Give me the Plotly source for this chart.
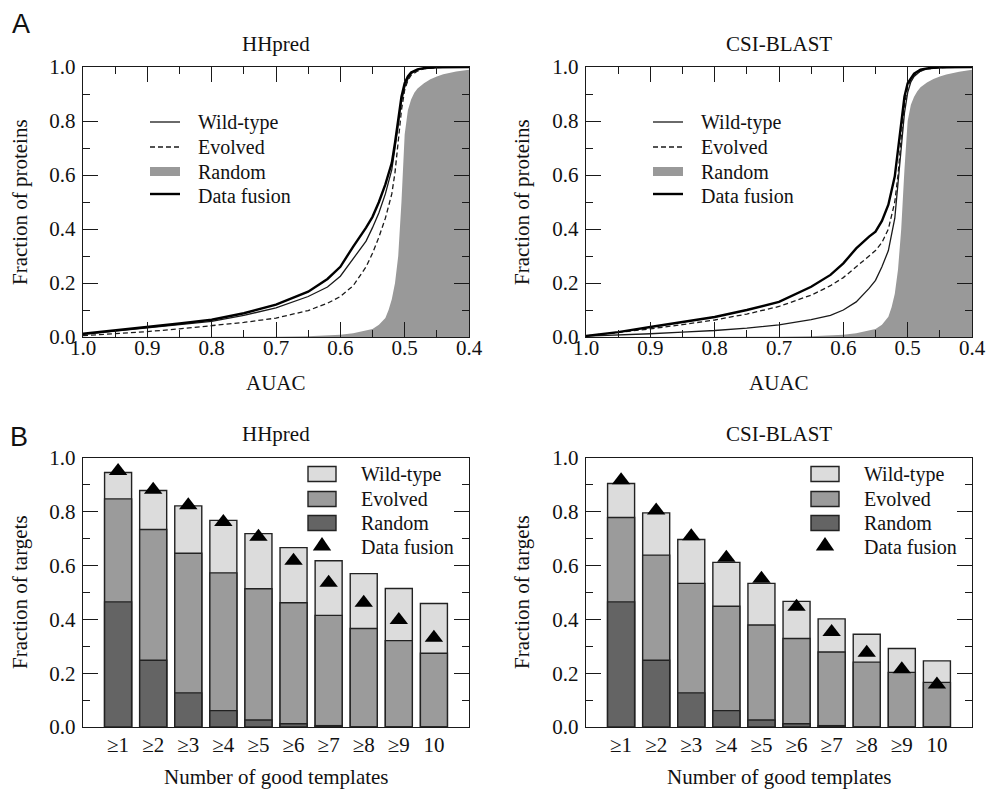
import plotly.graph_objects as go

# ---------------- DATA ----------------
# Panel A: cumulative fraction of proteins vs AUAC
auac = [1.0, 0.95, 0.9, 0.85, 0.8, 0.75, 0.7, 0.65, 0.62, 0.6, 0.58, 0.56, 0.55, 0.54,
        0.53, 0.52, 0.515, 0.51, 0.505, 0.5, 0.495, 0.49, 0.48, 0.47, 0.46, 0.45, 0.4]

hh_wild = [0.010, 0.022, 0.033, 0.045, 0.058, 0.080, 0.108, 0.150, 0.185, 0.225, 0.290, 0.355,
           0.405, 0.460, 0.530, 0.620, 0.700, 0.790, 0.870, 0.925, 0.955, 0.975, 0.990, 0.995,
           0.997, 0.999, 1.0]
hh_evolved = [0.005, 0.012, 0.020, 0.030, 0.042, 0.054, 0.070, 0.098, 0.125, 0.150, 0.190, 0.260,
              0.310, 0.370, 0.440, 0.530, 0.610, 0.720, 0.840, 0.915, 0.950, 0.970, 0.985, 0.993,
              0.996, 0.998, 1.0]
hh_fusion = [0.012, 0.024, 0.036, 0.050, 0.064, 0.088, 0.120, 0.168, 0.215, 0.260, 0.335, 0.405,
             0.445, 0.500, 0.565, 0.645, 0.720, 0.810, 0.890, 0.940, 0.965, 0.980, 0.991, 0.996,
             0.998, 0.999, 1.0]

csi_wild = [0.003, 0.007, 0.012, 0.018, 0.024, 0.033, 0.045, 0.064, 0.080, 0.100, 0.130, 0.180,
            0.210, 0.260, 0.320, 0.440, 0.560, 0.700, 0.830, 0.905, 0.945, 0.965, 0.985, 0.993,
            0.996, 0.998, 1.0]
csi_evolved = [0.004, 0.016, 0.030, 0.046, 0.063, 0.085, 0.113, 0.155, 0.190, 0.220, 0.260, 0.300,
               0.320, 0.350, 0.400, 0.500, 0.600, 0.740, 0.860, 0.925, 0.955, 0.970, 0.985, 0.993,
               0.996, 0.998, 1.0]
csi_fusion = [0.004, 0.018, 0.037, 0.055, 0.074, 0.100, 0.130, 0.186, 0.230, 0.273, 0.328, 0.372,
              0.390, 0.430, 0.490, 0.595, 0.690, 0.805, 0.890, 0.940, 0.960, 0.975, 0.990, 0.995,
              0.997, 0.999, 1.0]

auac_random = [1.0, 0.8, 0.7, 0.65, 0.6, 0.58, 0.56, 0.55, 0.54, 0.53, 0.525, 0.52, 0.515, 0.51,
               0.505, 0.5, 0.495, 0.49, 0.485, 0.48, 0.47, 0.46, 0.45, 0.44, 0.42, 0.4]
hh_random = [0.0, 0.0, 0.001, 0.003, 0.008, 0.014, 0.025, 0.030, 0.045, 0.070, 0.100, 0.140,
             0.200, 0.300, 0.500, 0.750, 0.840, 0.880, 0.905, 0.920, 0.940, 0.955, 0.965, 0.973,
             0.983, 0.990]
csi_random = [0.0, 0.0, 0.001, 0.003, 0.008, 0.014, 0.025, 0.030, 0.045, 0.075, 0.110, 0.160,
              0.250, 0.400, 0.620, 0.800, 0.860, 0.890, 0.910, 0.925, 0.943, 0.956, 0.965, 0.972,
              0.982, 0.990]

# Panel B: fraction of targets vs number of good templates
categories = ["≥1", "≥2", "≥3", "≥4", "≥5", "≥6", "≥7", "≥8", "≥9", "10"]
random_b = [0.465, 0.248, 0.127, 0.061, 0.026, 0.012, 0.005, 0.0, 0.0, 0.0]
hh_wild_b = [0.946, 0.879, 0.822, 0.768, 0.719, 0.667, 0.618, 0.570, 0.515, 0.459]
hh_evolved_b = [0.848, 0.734, 0.646, 0.573, 0.514, 0.462, 0.415, 0.366, 0.321, 0.274]
hh_fusion_b = [0.952, 0.882, 0.824, 0.762, 0.707, 0.618, 0.536, 0.462, 0.398, 0.332]
csi_wild_b = [0.905, 0.796, 0.697, 0.612, 0.534, 0.467, 0.402, 0.345, 0.292, 0.246]
csi_evolved_b = [0.779, 0.639, 0.534, 0.449, 0.379, 0.329, 0.279, 0.241, 0.203, 0.166]
csi_fusion_b = [0.917, 0.805, 0.709, 0.629, 0.551, 0.447, 0.353, 0.276, 0.215, 0.158]

series_names = ["Wild-type", "Evolved", "Random", "Data fusion"]
panel_titles = ["HHpred", "CSI-BLAST"]

# ---------------- STYLE ----------------
W, H = 988, 789
SERIF = "Liberation Serif, Times New Roman, serif"
SANS = "Liberation Sans, Arial, sans-serif"
INK = "#1a1a1a"
C_WILD, C_EVO, C_RAND = "#dcdcdc", "#9b9b9b", "#646464"
C_FILL = "#999999"
FS = 21
FS_LEG = 20


def fx(p):
    return p / W


def fy(p):
    return 1 - p / H


# axis pixel boxes: (left, right), (top, bottom)
XL, XR = (83, 469), (586, 972)
YT, YB = (67, 337), (458, 727)

fig = go.Figure()

# ---- Panel A curves ----
for i, (wild, evo, fus, rnd) in enumerate([(hh_wild, hh_evolved, hh_fusion, hh_random),
                                           (csi_wild, csi_evolved, csi_fusion, csi_random)]):
    xa = "x" if i == 0 else "x2"
    ya = "y" if i == 0 else "y2"
    fig.add_trace(go.Scatter(x=auac_random, y=rnd, mode="lines", fill="tozeroy",
                             fillcolor=C_FILL, line=dict(width=0, color=C_FILL),
                             name=series_names[2], showlegend=False, xaxis=xa, yaxis=ya))
    fig.add_trace(go.Scatter(x=auac, y=evo, mode="lines",
                             line=dict(color=INK, width=1.3, dash="5px,3px"),
                             name=series_names[1], showlegend=False, xaxis=xa, yaxis=ya))
    fig.add_trace(go.Scatter(x=auac, y=wild, mode="lines",
                             line=dict(color=INK, width=1.3),
                             name=series_names[0], showlegend=False, xaxis=xa, yaxis=ya))
    fig.add_trace(go.Scatter(x=auac, y=fus, mode="lines",
                             line=dict(color="#000000", width=2.4),
                             name=series_names[3], showlegend=False, xaxis=xa, yaxis=ya))

# ---- Panel B bars ----
for i, (wild, evo, fus) in enumerate([(hh_wild_b, hh_evolved_b, hh_fusion_b),
                                      (csi_wild_b, csi_evolved_b, csi_fusion_b)]):
    xa = "x3" if i == 0 else "x4"
    ya = "y3" if i == 0 else "y4"
    for vals, col, nm in [(wild, C_WILD, series_names[0]), (evo, C_EVO, series_names[1]),
                          (random_b, C_RAND, series_names[2])]:
        fig.add_trace(go.Bar(x=categories, y=vals,
                             marker=dict(color=col, line=dict(color="#222222", width=1.4)),
                             width=0.77, name=nm, showlegend=False, xaxis=xa, yaxis=ya))
    fig.add_trace(go.Scatter(x=categories, y=fus, mode="markers",
                             marker=dict(symbol="triangle-up", size=16, color="#000000",
                                         line=dict(width=0)),
                             name=series_names[3], showlegend=False, xaxis=xa, yaxis=ya,
                             cliponaxis=False))

# ---- Axes ----
common = dict(showline=True, linecolor=INK, linewidth=1.4, mirror="allticks", ticks="inside",
              ticklen=15, tickwidth=1.3, tickcolor=INK, showgrid=False, zeroline=False,
              automargin=False,
              tickfont=dict(family=SERIF, size=FS, color="#111111"))

xtick_vals = [1.0, 0.9, 0.8, 0.7, 0.6, 0.5, 0.4]
ytick_vals = [0.0, 0.2, 0.4, 0.6, 0.8, 1.0]

layout_axes = {}
for n, (xr, yr) in zip([1, 2, 3, 4], [(XL, YT), (XR, YT), (XL, YB), (XR, YB)]):
    xk = "xaxis" if n == 1 else f"xaxis{n}"
    yk = "yaxis" if n == 1 else f"yaxis{n}"
    xd = [fx(xr[0]), fx(xr[1])]
    yd = [fy(yr[1]), fy(yr[0])]
    ax_y = "y" if n == 1 else f"y{n}"
    ax_x = "x" if n == 1 else f"x{n}"
    if n <= 2:
        layout_axes[xk] = dict(common, domain=xd, anchor=ax_y, range=[1.0, 0.4],
                               tickvals=xtick_vals, ticktext=[f"{v:.1f}" for v in xtick_vals],
                               ticklabelstandoff=-8,
                               minor=dict(dtick=0.05, tick0=0.0, ticks="inside", ticklen=7,
                                          tickwidth=1.3, tickcolor=INK, showgrid=False))
    else:
        layout_axes[xk] = dict(showline=True, linecolor=INK, linewidth=1.4, mirror=True,
                               ticks="", showgrid=False, zeroline=False, domain=xd, anchor=ax_y,
                               automargin=False,
                               type="category", range=[-1, 10], ticklabelstandoff=-1,
                               tickfont=dict(family=SERIF, size=FS, color="#111111"))
    layout_axes[yk] = dict(common, domain=yd, anchor=ax_x, range=[0, 1],
                           tickvals=ytick_vals, ticktext=[f"{v:.1f}" for v in ytick_vals],
                           ticklabelstandoff=2,
                           minor=dict(dtick=0.1, tick0=0.0, ticks="inside", ticklen=7,
                                      tickwidth=1.3, tickcolor=INK, showgrid=False))

# ---- Texts ----
ann = []


def text(t, x, y, size=FS, family=SERIF, xanchor="center", yanchor="middle", angle=0):
    ann.append(dict(text=t, x=fx(x), y=fy(y), xref="paper", yref="paper", showarrow=False,
                    xanchor=xanchor, yanchor=yanchor, textangle=angle, borderpad=0,
                    font=dict(family=family, size=size, color="#111111")))


text("A", 21, 24, size=27, family=SANS)
text("B", 19, 437, size=27, family=SANS)
for (l, r), t in zip([XL, XR], panel_titles):
    cx = (l + r) / 2
    text(t, cx, 44)
    text(t, cx, 434)
    text("AUAC", cx, 383)
    text("Number of good templates", cx, 777)
text("Fraction of proteins", 20, 202, angle=-90)
text("Fraction of proteins", 522, 202, angle=-90)
text("Fraction of targets", 20, 592, angle=-90)
text("Fraction of targets", 522, 592, angle=-90)

shapes = []

# Panel A legends
rows_a = [122, 147, 171.5, 196]
for l, _ in [XL, XR]:
    x0, x1, xt = l + 67, l + 97, l + 114
    shapes.append(dict(type="line", xref="paper", yref="paper", x0=fx(x0), x1=fx(x1),
                       y0=fy(rows_a[0]), y1=fy(rows_a[0]), line=dict(color=INK, width=1.3)))
    shapes.append(dict(type="line", xref="paper", yref="paper", x0=fx(x0), x1=fx(x1),
                       y0=fy(rows_a[1]), y1=fy(rows_a[1]),
                       line=dict(color=INK, width=1.3, dash="5px,3px")))
    shapes.append(dict(type="rect", xref="paper", yref="paper", x0=fx(x0), x1=fx(x1),
                       y0=fy(rows_a[2] + 4.5), y1=fy(rows_a[2] - 4.5),
                       fillcolor=C_FILL, line=dict(width=0)))
    shapes.append(dict(type="line", xref="paper", yref="paper", x0=fx(x0), x1=fx(x1),
                       y0=fy(rows_a[3] - 2), y1=fy(rows_a[3] - 2),
                       line=dict(color="#000000", width=2.4)))
    for nm, ry in zip(series_names, rows_a):
        text(nm, xt, ry, size=FS_LEG, xanchor="left")

# Panel B legends
rows_b = [474, 499, 523, 547]
for l, _ in [XL, XR]:
    x0, x1, xt = l + 225, l + 253, l + 277
    for col, ry in zip([C_WILD, C_EVO, C_RAND], rows_b[:3]):
        shapes.append(dict(type="rect", xref="paper", yref="paper", x0=fx(x0), x1=fx(x1),
                           y0=fy(ry + 7.5), y1=fy(ry - 7.5), fillcolor=col,
                           line=dict(color="#222222", width=1.4)))
    cx, cy = (x0 + x1) / 2, rows_b[3] - 2
    path = (f"M{fx(cx - 9.2)},{fy(cy + 5.5)} L{fx(cx + 9.2)},{fy(cy + 5.5)} "
            f"L{fx(cx)},{fy(cy - 8)} Z")
    shapes.append(dict(type="path", xref="paper", yref="paper", path=path,
                       fillcolor="#000000", line=dict(width=0)))
    for nm, ry in zip(series_names, rows_b):
        text(nm, xt, ry, size=FS_LEG, xanchor="left")

fig.update_layout(template="none", width=W, height=H, margin=dict(l=0, r=0, t=0, b=0),
                  paper_bgcolor="white", plot_bgcolor="white", barmode="overlay",
                  showlegend=False, annotations=ann, shapes=shapes,
                  font=dict(family=SERIF, size=FS, color="#111111"))
fig.update_layout(**layout_axes)

fig.write_html("out.html", config={"displayModeBar": False},
               post_script="document.body.style.margin='0';document.body.style.overflow='hidden';")
